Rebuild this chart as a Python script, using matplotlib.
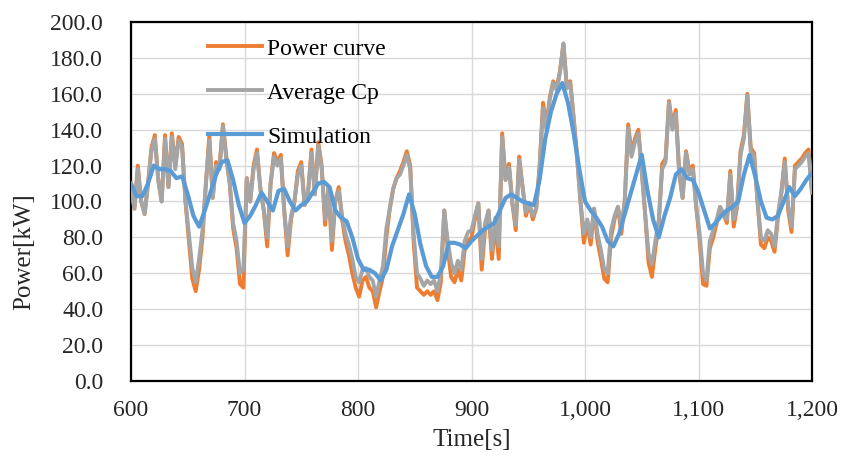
import numpy as np
import matplotlib
matplotlib.use("Agg")
import matplotlib.pyplot as plt
from matplotlib.ticker import FuncFormatter, MultipleLocator

# ---- data ----
t_start = 600
t_end = 1200
step_meas = 3   # s between samples of the measured-type series
step_sim = 5    # s between samples of the simulation

average_cp = [
    108, 96, 118, 100, 93, 110, 128, 135, 112, 100,
    135, 108, 136, 118, 134, 130, 100, 82, 63, 55,
    68, 84, 110, 134, 102, 120, 118, 142, 123, 110,
    88, 78, 60, 62, 113, 100, 118, 127, 107, 95,
    80, 110, 125, 120, 124, 95, 75, 92, 100, 115,
    120, 98, 105, 127, 104, 131, 118, 90, 108, 78,
    100, 106, 92, 82, 76, 68, 58, 55, 62, 63,
    58, 56, 47, 56, 64, 85, 96, 107, 113, 115,
    120, 126, 118, 82, 60, 57, 53, 56, 54, 56,
    50, 60, 95, 78, 66, 60, 67, 62, 78, 83,
    84, 92, 99, 68, 88, 95, 73, 91, 75, 136,
    112, 119, 99, 87, 123, 108, 94, 99, 92, 96,
    118, 152, 140, 157, 166, 162, 172, 188, 163, 166,
    146, 124, 100, 82, 90, 80, 96, 82, 73, 62,
    60, 84, 92, 97, 86, 100, 141, 125, 133, 138,
    116, 93, 71, 65, 78, 90, 118, 122, 155, 140,
    149, 115, 102, 127, 115, 118, 97, 82, 60, 56,
    78, 84, 90, 97, 93, 90, 115, 90, 97, 126,
    135, 159, 128, 125, 100, 80, 78, 84, 82, 75,
    93, 105, 122, 97, 86, 118, 120, 122, 125, 127,
    105,
]

power_curve = [
    108, 96, 120, 100, 93, 110, 130, 137, 112, 100,
    137, 108, 138, 120, 136, 132, 100, 78, 57, 50,
    62, 80, 110, 137, 102, 122, 120, 143, 125, 110,
    85, 74, 54, 52, 113, 100, 120, 129, 107, 95,
    75, 110, 127, 122, 126, 95, 70, 90, 100, 117,
    122, 98, 105, 129, 104, 133, 120, 87, 108, 73,
    100, 108, 90, 78, 70, 60, 52, 47, 56, 58,
    52, 50, 41, 50, 58, 80, 96, 107, 113, 117,
    122, 128, 120, 78, 52, 50, 48, 50, 48, 50,
    45, 55, 95, 74, 58, 55, 62, 56, 73, 78,
    80, 90, 99, 62, 85, 95, 68, 88, 68, 138,
    112, 121, 99, 84, 125, 108, 92, 99, 90, 96,
    120, 155, 142, 158, 167, 163, 173, 188, 164, 167,
    147, 126, 100, 77, 88, 76, 96, 78, 68, 57,
    55, 80, 90, 97, 82, 100, 143, 127, 135, 140,
    118, 93, 66, 58, 74, 88, 121, 124, 156, 142,
    151, 117, 102, 128, 117, 120, 97, 78, 54, 53,
    74, 80, 88, 97, 93, 88, 117, 86, 97, 128,
    137, 160, 130, 127, 100, 76, 74, 80, 78, 72,
    91, 105, 124, 95, 83, 120, 122, 124, 127, 129,
    105,
]

simulation = [
    110, 103, 103, 110, 120, 118, 118, 117, 113, 114,
    104, 92, 86, 95, 105, 115, 122, 123, 112, 98,
    88, 92, 98, 105, 100, 95, 106, 107, 100, 95,
    98, 100, 105, 110, 111, 108, 95, 91, 89, 80,
    68, 62, 62, 60, 56, 62, 75, 84, 93, 104,
    93, 76, 64, 58, 58, 64, 77, 77, 76, 74,
    78, 81, 84, 86, 88, 95, 102, 104, 102, 100,
    99, 98, 112, 135, 150, 160, 166, 155, 138, 118,
    100, 95, 91, 86, 78, 75, 82, 93, 104, 115,
    126, 106, 90, 80, 92, 102, 115, 118, 113, 112,
    105, 95, 85, 88, 92, 95, 97, 100, 115, 126,
    114, 100, 91, 90, 92, 100, 108, 103, 107, 112,
    116,
]

series_labels = ["Power curve", "Average Cp", "Simulation"]
x_label = "Time[s]"
y_label = "Power[kW]"

t_meas = t_start + step_meas * np.arange(len(average_cp))
t_sim = t_start + step_sim * np.arange(len(simulation))

# ---- style ----
plt.rcParams["font.family"] = ["Liberation Serif", "DejaVu Serif"]
c_orange = "#ED7D31"
c_gray = "#A5A5A5"
c_blue = "#5B9BD5"
txt = "#262626"

fig = plt.figure(figsize=(8.41, 4.61), dpi=100)
ax = fig.add_axes([131 / 841, 1 - 381 / 461, 681 / 841, 359 / 461])

ax.plot(t_meas, power_curve, color=c_orange, lw=2.8, label=series_labels[0], zorder=3)
ax.plot(t_meas, average_cp, color=c_gray, lw=2.8, label=series_labels[1], zorder=4)
ax.plot(t_sim, simulation, color=c_blue, lw=3.0, label=series_labels[2], zorder=5)

ax.set_xlim(600, 1200)
ax.set_ylim(0, 200)
ax.xaxis.set_major_locator(MultipleLocator(100))
ax.yaxis.set_major_locator(MultipleLocator(20))
ax.xaxis.set_major_formatter(FuncFormatter(lambda v, p: f"{v:,.0f}"))
ax.yaxis.set_major_formatter(FuncFormatter(lambda v, p: f"{v:.1f}"))
ax.grid(True, color="#D9D9D9", lw=1.0, zorder=0)
ax.set_axisbelow(True)
for s in ax.spines.values():
    s.set_color("black")
    s.set_linewidth(1.6)
ax.tick_params(axis="both", length=0, labelsize=17, colors=txt)
ax.tick_params(axis="y", pad=20)
ax.tick_params(axis="x", pad=14)

ax.set_xlabel(x_label, fontsize=18, color=txt)
ax.set_ylabel(y_label, fontsize=18, color=txt)
ax.xaxis.set_label_coords(0.5, -0.135)
ax.yaxis.set_label_coords(-0.141, 0.36)

ax.legend(loc="upper left", bbox_to_anchor=(0.113, 0.955), frameon=False,
          fontsize=17, handlelength=2.3, handletextpad=0.2, labelspacing=0.95,
          borderaxespad=0, borderpad=0)

fig.savefig("out.png", dpi=100)
